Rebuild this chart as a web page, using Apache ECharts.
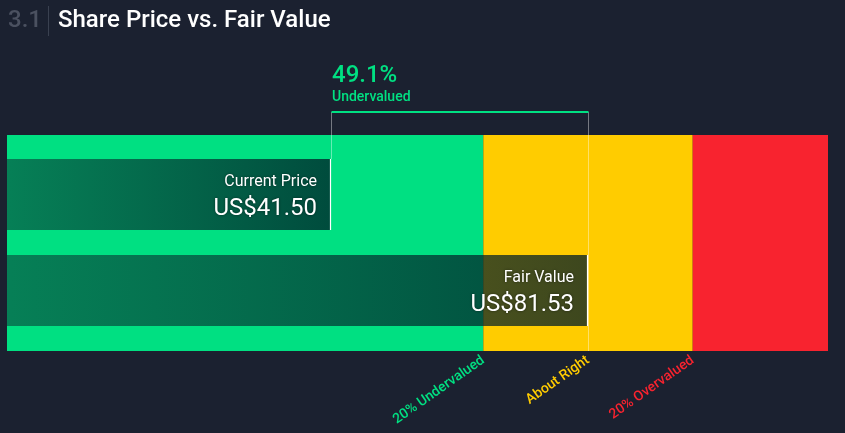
<!DOCTYPE html>
<html>
<head>
<meta charset="utf-8">
<script src="https://cdn.jsdelivr.net/npm/echarts@6/dist/echarts.min.js"></script>
<style>
html,body{margin:0;padding:0;background:#1b2130;}
#chart{width:845px;height:433px;}
</style>
</head>
<body>
<div id="chart"></div>
<script>
// ---- data ----
const categories = ['Current Price', 'Fair Value'];
const prices = [41.50, 81.53];
const priceLabels = ['US$41.50', 'US$81.53'];
const zoneNames = ['20% Undervalued', 'About Right', '20% Overvalued'];
const zoneStarts = [-8.97, 65.22, 97.84];
const zoneEnds = [65.22, 97.84, 118.91];
const tickValues = [65.22, 81.53, 97.84];
const axisMin = -8.97;
const axisMax = 118.91;

// ---- styles ----
const zoneColors = ['#00e082', '#ffcc00', '#f8232f'];
const labelColors = ['#00e082', '#ffcc00', '#f8232f'];
const FONT = 'Roboto';

const chart = echarts.init(document.getElementById('chart'));

const pct = ((prices[1] - prices[0]) / prices[1] * 100).toFixed(1) + '%';

function nearestIdx(v) {
  let best = 0;
  for (let i = 0; i < tickValues.length; i++) {
    if (Math.abs(tickValues[i] - v) < Math.abs(tickValues[best] - v)) best = i;
  }
  return best;
}

function renderZone(params, api) {
  const a = api.coord([api.value(0), 1]);
  const b = api.coord([api.value(1), 0]);
  return {
    type: 'rect',
    shape: { x: a[0], y: a[1], width: b[0] - a[0], height: b[1] - a[1] },
    style: { fill: zoneColors[params.dataIndex] }
  };
}

function renderBracket(params, api) {
  const a = api.coord([api.value(0), 1]);
  const b = api.coord([api.value(1), 0]);
  const x1 = Math.round(a[0]) + 0.5;
  const x2 = Math.round(b[0]) + 0.5;
  const top = a[1] - 23;
  const bottom = b[1];
  return {
    type: 'group',
    children: [
      { type: 'line', shape: { x1: x1, y1: top, x2: x1, y2: a[1] + 24 },
        style: { stroke: 'rgba(255,255,255,0.4)', lineWidth: 1 } },
      { type: 'line', shape: { x1: x2, y1: top, x2: x2, y2: bottom },
        style: { stroke: 'rgba(255,255,255,0.4)', lineWidth: 1 } },
      { type: 'line', shape: { x1: x1, y1: top, x2: x2, y2: top },
        style: { stroke: '#00e082', lineWidth: 2 } },
      { type: 'text', style: { text: pct, x: x1 + 0.5, y: top - 36, align: 'left', verticalAlign: 'middle',
        fill: '#00e082', font: '500 24px ' + FONT } },
      { type: 'text', style: { text: 'Undervalued', x: x1 + 0.5, y: top - 15, align: 'left', verticalAlign: 'middle',
        fill: '#00e082', font: '500 14px ' + FONT } }
    ]
  };
}

function renderBar(params, api) {
  const cat = api.value(1);
  const end = api.coord([api.value(0), cat]);
  const left = params.coordSys.x;
  const h = 71;
  const top = end[1] - h / 2;
  const ex = Math.round(end[0]);
  return {
    type: 'group',
    children: [
      { type: 'rect', shape: { x: left, y: top, width: ex - left, height: h },
        style: { fill: new echarts.graphic.LinearGradient(0, 0, 1, 0, [
          { offset: 0, color: 'rgba(11,48,50,0.55)' },
          { offset: 1, color: 'rgba(0,29,39,0.76)' }
        ]) } },
      { type: 'line', shape: { x1: ex - 0.5, y1: top, x2: ex - 0.5, y2: top + h },
        style: { stroke: '#ffffff', lineWidth: 1.2 } },
      { type: 'text', style: { text: categories[params.dataIndex], x: ex - 14, y: top + 23,
        align: 'right', verticalAlign: 'middle', fill: '#ffffff', font: '400 16px ' + FONT,
        textShadowColor: 'rgba(0,0,0,0.5)', textShadowBlur: 3 } },
      { type: 'text', style: { text: priceLabels[params.dataIndex], x: ex - 14, y: top + 50,
        align: 'right', verticalAlign: 'middle', fill: '#ffffff', font: '400 24px ' + FONT,
        textShadowColor: 'rgba(0,0,0,0.5)', textShadowBlur: 3 } }
    ]
  };
}

const option = {
  backgroundColor: '#1b2130',
  animation: false,
  title: [
    { text: '3.1', left: 3, top: 4, textStyle: { color: '#4b5160', fontSize: 24, fontWeight: 500, fontFamily: FONT } },
    { text: 'Share Price vs. Fair Value', left: 53, top: 4, textStyle: { color: '#ffffff', fontSize: 24, fontWeight: 500, fontFamily: FONT } }
  ],
  graphic: [
    { type: 'line', shape: { x1: 48.5, y1: 6, x2: 48.5, y2: 36 }, style: { stroke: '#3a4150', lineWidth: 1 } }
  ],
  grid: [
    { left: 7, right: 17, top: 135, bottom: 82 },
    { left: 7, right: 17, top: 146.5, bottom: 94.5 }
  ],
  xAxis: [
    { type: 'value', gridIndex: 0, min: axisMin, max: axisMax,
      axisLine: { show: false }, axisTick: { show: false }, splitLine: { show: false },
      axisLabel: { show: true, customValues: tickValues, rotate: 35, margin: 8, fontSize: 14, fontWeight: 500, fontFamily: FONT,
        formatter: function (v) { return zoneNames[nearestIdx(v)]; },
        color: function (v) { return labelColors[nearestIdx(v)]; } } },
    { type: 'value', gridIndex: 1, min: axisMin, max: axisMax, show: false }
  ],
  yAxis: [
    { type: 'value', gridIndex: 0, min: 0, max: 1, show: false },
    { type: 'category', gridIndex: 1, data: categories, inverse: true, show: false }
  ],
  series: [
    { type: 'custom', xAxisIndex: 0, yAxisIndex: 0, renderItem: renderZone, z: 1,
      data: zoneStarts.map((s, i) => [s, zoneEnds[i]]) },
    { type: 'custom', xAxisIndex: 0, yAxisIndex: 0, renderItem: renderBracket, z: 2,
      data: [[prices[0], prices[1]]] },
    { type: 'custom', xAxisIndex: 1, yAxisIndex: 1, renderItem: renderBar, z: 3,
      data: prices.map((p, i) => [p, i]) }
  ]
};
chart.setOption(option);
</script>
</body>
</html>
